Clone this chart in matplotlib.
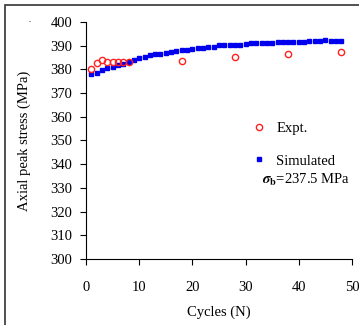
import numpy as np
import matplotlib.pyplot as plt
from matplotlib.patches import Rectangle

plt.rcParams['font.family'] = ['Liberation Serif', 'DejaVu Serif']
plt.rcParams['mathtext.fontset'] = 'stix'

# experimental peak stress (MPa)
expt_cycles = [1, 2, 3, 4, 5, 6, 7, 8, 18, 28, 38, 48]
expt_stress = [380.0, 382.5, 383.8, 383.1, 383.0, 383.0, 383.0, 383.1, 383.5, 385.1, 386.4, 387.5]

# simulated peak stress, one point per cycle
sim_cycles = list(range(1, 49))
sim_stress = [378.0, 378.4, 379.6, 380.4, 381.1, 381.8, 382.3, 383.2, 383.9, 384.7,
              385.3, 385.9, 386.3, 386.7, 386.9, 387.2, 387.7, 388.0, 388.3, 388.7,
              388.9, 389.2, 389.4, 389.6, 390.1, 390.3, 390.4, 390.5, 390.5, 390.9,
              391.0, 391.0, 391.0, 391.1, 391.1, 391.5, 391.6, 391.6, 391.6, 391.6,
              391.7, 392.1, 392.1, 392.1, 392.2, 392.1, 392.1, 392.1]

fig = plt.figure(figsize=(3.59, 3.25), dpi=100)
ax = fig.add_axes([0.2396, 0.2031, 0.7409, 0.7292])

ax.plot(sim_cycles, sim_stress, ls='none', marker='s', ms=2.8, color='#0000ee',
        mec='#0000ee', label='Simulated')
ax.plot(expt_cycles, expt_stress, ls='none', marker='o', ms=4.5, mfc='none',
        mec='#ff2020', mew=1.0, label='Expt.')

ax.set_xlim(0, 50)
ax.set_ylim(300, 400)
ax.set_xticks(np.arange(0, 51, 10))
ax.set_yticks(np.arange(300, 401, 10))
ax.spines['top'].set_visible(False)
ax.spines['right'].set_visible(False)
ax.tick_params(axis='x', direction='out', length=4, pad=12, labelsize=10.5)
ax.tick_params(axis='y', direction='out', length=4, pad=6, labelsize=10.5)
ax.set_xlabel('Cycles (N)', fontsize=10.5, labelpad=8)
ax.set_ylabel('Axial peak stress (MPa)', fontsize=10.5, labelpad=14)

h, l = ax.get_legend_handles_labels()
ax.legend([h[1], h[0]], [l[1], l[0]], loc='upper left', bbox_to_anchor=(0.6, 0.602),
          frameon=False, numpoints=1, handlelength=1.0, handletextpad=0.7,
          labelspacing=1.3, fontsize=10.5, borderaxespad=0)
fig.text(262 / 359, 1 - 180 / 325, r'$\boldsymbol{\sigma}_{\mathbf{b}}$=237.5 MPa',
         fontsize=10.5, va='center', ha='left')
fig.text(30 / 359, 1 - 20 / 325, '.', fontsize=6, ha='center', va='center')

fig.patches.append(Rectangle((5 / 359, -0.1), 1.2, 1 - 5 / 325 + 0.1,
                             transform=fig.transFigure, fill=False,
                             ec='#333333', lw=1.2))

fig.savefig('out.png', dpi=100)
